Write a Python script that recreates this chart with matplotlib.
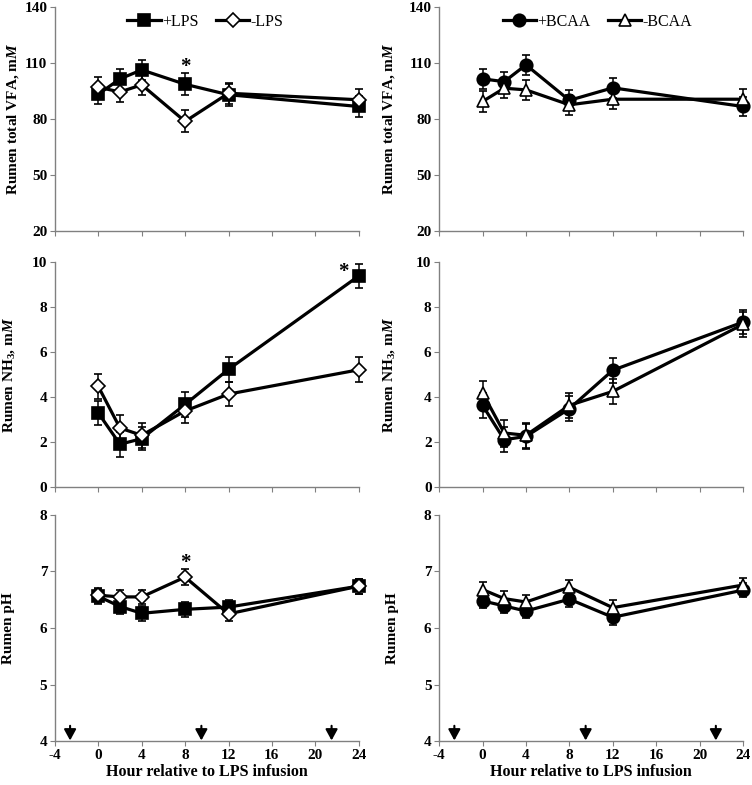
import matplotlib
matplotlib.use('Agg')
import matplotlib.pyplot as plt
from matplotlib.lines import Line2D

plt.rcParams['font.family'] = ['Liberation Serif', 'DejaVu Serif']
plt.rcParams['mathtext.fontset'] = 'custom'
plt.rcParams['mathtext.rm'] = 'Liberation Serif:bold'
plt.rcParams['mathtext.it'] = 'Liberation Serif:italic:bold'
plt.rcParams['mathtext.bf'] = 'Liberation Serif:bold'
plt.rcParams['axes.unicode_minus'] = False

hours = [0, 2, 4, 8, 12, 24]

# VFA, mM
vfa_lps = [93.3, 101.5, 106.3, 98.6, 93.0, 86.7]
vfa_lps_se = [5.5, 5.5, 5.3, 6.0, 5.8, 5.8]
vfa_nolps = [97.0, 94.5, 98.3, 78.7, 93.8, 90.3]
vfa_nolps_se = [5.7, 5.5, 5.5, 5.9, 5.7, 5.7]
vfa_bcaa = [101.5, 100.0, 109.0, 90.0, 96.7, 86.7]
vfa_bcaa_se = [5.5, 5.3, 5.5, 5.3, 5.5, 5.3]
vfa_nobcaa = [89.4, 96.5, 95.6, 87.6, 90.6, 90.6]
vfa_nobcaa_se = [5.5, 5.5, 5.5, 5.3, 5.3, 5.3]

# NH3, mM
nh3_lps = [3.29, 1.9, 2.15, 3.67, 5.23, 9.38]
nh3_lps_se = [0.55, 0.55, 0.5, 0.55, 0.55, 0.55]
nh3_nolps = [4.47, 2.62, 2.3, 3.38, 4.13, 5.21]
nh3_nolps_se = [0.57, 0.57, 0.55, 0.55, 0.55, 0.55]
nh3_bcaa = [3.63, 2.1, 2.25, 3.48, 5.19, 7.33]
nh3_bcaa_se = [0.55, 0.55, 0.55, 0.55, 0.55, 0.55]
nh3_nobcaa = [4.18, 2.4, 2.3, 3.63, 4.25, 7.23]
nh3_nobcaa_se = [0.55, 0.6, 0.55, 0.55, 0.55, 0.55]

# pH
ph_lps = [6.56, 6.38, 6.26, 6.33, 6.37, 6.74]
ph_lps_se = [0.13, 0.13, 0.13, 0.13, 0.13, 0.13]
ph_nolps = [6.58, 6.55, 6.55, 6.9, 6.25, 6.74]
ph_nolps_se = [0.13, 0.13, 0.13, 0.14, 0.13, 0.13]
ph_bcaa = [6.48, 6.39, 6.30, 6.51, 6.19, 6.67]
ph_bcaa_se = [0.13, 0.13, 0.13, 0.13, 0.13, 0.13]
ph_nobcaa = [6.68, 6.52, 6.46, 6.72, 6.36, 6.76]
ph_nobcaa_se = [0.13, 0.13, 0.13, 0.13, 0.13, 0.13]

arrow_hours = [-2.6, 9.5, 21.5]

fig = plt.figure(figsize=(7.52, 7.85), dpi=100)
lefts = [0.073, 0.584]
rows = [(0.7057, 0.2854), (0.3796, 0.2866), (0.056, 0.288)]
axes = [[fig.add_axes([l, b, 0.404, h]) for l in lefts] for b, h in rows]
# y-label x positions (axes coords), per row / column
label_x = [[-0.112, -0.138], [-0.124, -0.138], [-0.132, -0.132]]


def msize(marker):
    return 7.5 if marker == 'D' else 9


def series(ax, y, se, marker, face):
    ax.errorbar(hours, y, yerr=se, color='black', marker=marker, markersize=msize(marker),
                markerfacecolor=face, markeredgecolor='black', markeredgewidth=1.2,
                linewidth=2.3, elinewidth=1.1, capsize=3, capthick=1.1, zorder=3, clip_on=False)


def legend(ax, specs, cx):
    handles = [Line2D([], [], color='black', lw=2.3, marker=m, markersize=msize(m),
                      markerfacecolor=f, markeredgecolor='black', markeredgewidth=1.2) for m, f, _ in specs]
    ax.legend(handles, [s[2] for s in specs], loc='upper center', bbox_to_anchor=(cx, 1.035), ncol=2,
              frameon=False, fontsize=11.5, handlelength=2.1, handletextpad=0.05, columnspacing=1.1)


def style(ax, ylim, yticks, ylabel, bottom, lx):
    ax.set_xlim(-4, 24)
    ax.set_xticks(range(-4, 25, 4))
    ax.set_ylim(*ylim)
    ax.set_yticks(yticks)
    ax.spines['top'].set_visible(False)
    ax.spines['right'].set_visible(False)
    for s in ['left', 'bottom']:
        ax.spines[s].set_color('#808080')
        ax.spines[s].set_linewidth(1.0)
    ax.tick_params(direction='out', length=3.5, color='#808080', labelsize=11, pad=2)
    for t in ax.get_yticklabels() + ax.get_xticklabels():
        t.set_fontweight('bold')
    ax.set_ylabel(ylabel, fontsize=11, fontweight='bold')
    ax.yaxis.set_label_coords(lx, 0.5)
    if bottom:
        ax.set_xlabel('Hour relative to LPS infusion', fontsize=11.5, fontweight='bold', labelpad=2)
    else:
        ax.tick_params(axis='x', labelbottom=False)


vfa_label = r'Rumen total VFA, m$\mathit{M}$'
nh3_label = r'Rumen NH$_3$, m$\mathit{M}$'
lps_specs = [('s', 'black', '+LPS'), ('D', 'white', '-LPS')]
bcaa_specs = [('o', 'black', '+BCAA'), ('^', 'white', '-BCAA')]

# top row
ax = axes[0][0]
series(ax, vfa_lps, vfa_lps_se, 's', 'black')
series(ax, vfa_nolps, vfa_nolps_se, 'D', 'white')
style(ax, (20, 140), [20, 50, 80, 110, 140], vfa_label, False, label_x[0][0])
legend(ax, lps_specs, 0.495)
ax.text(8, 108, '*', ha='center', va='center', fontsize=15, fontweight='bold')

ax = axes[0][1]
series(ax, vfa_bcaa, vfa_bcaa_se, 'o', 'black')
series(ax, vfa_nobcaa, vfa_nobcaa_se, '^', 'white')
style(ax, (20, 140), [20, 50, 80, 110, 140], vfa_label, False, label_x[0][1])
legend(ax, bcaa_specs, 0.52)

# middle row
ax = axes[1][0]
series(ax, nh3_lps, nh3_lps_se, 's', 'black')
series(ax, nh3_nolps, nh3_nolps_se, 'D', 'white')
style(ax, (0, 10), [0, 2, 4, 6, 8, 10], nh3_label, False, label_x[1][0])
ax.text(22.6, 9.55, '*', ha='center', va='center', fontsize=15, fontweight='bold')

ax = axes[1][1]
series(ax, nh3_bcaa, nh3_bcaa_se, 'o', 'black')
series(ax, nh3_nobcaa, nh3_nobcaa_se, '^', 'white')
style(ax, (0, 10), [0, 2, 4, 6, 8, 10], nh3_label, False, label_x[1][1])

# bottom row
ax = axes[2][0]
series(ax, ph_lps, ph_lps_se, 's', 'black')
series(ax, ph_nolps, ph_nolps_se, 'D', 'white')
style(ax, (4, 8), [4, 5, 6, 7, 8], 'Rumen pH', True, label_x[2][0])
ax.text(8, 7.15, '*', ha='center', va='center', fontsize=15, fontweight='bold')

ax = axes[2][1]
series(ax, ph_bcaa, ph_bcaa_se, 'o', 'black')
series(ax, ph_nobcaa, ph_nobcaa_se, '^', 'white')
style(ax, (4, 8), [4, 5, 6, 7, 8], 'Rumen pH', True, label_x[2][1])

for ax in axes[2]:
    for h in arrow_hours:
        ax.annotate('', xy=(h, 4.01), xytext=(h, 4.27),
                    arrowprops=dict(arrowstyle='-|>,head_length=0.55,head_width=0.3',
                                    color='black', lw=1.5, mutation_scale=12, shrinkA=0, shrinkB=0))

fig.savefig('out.png', dpi=100)
